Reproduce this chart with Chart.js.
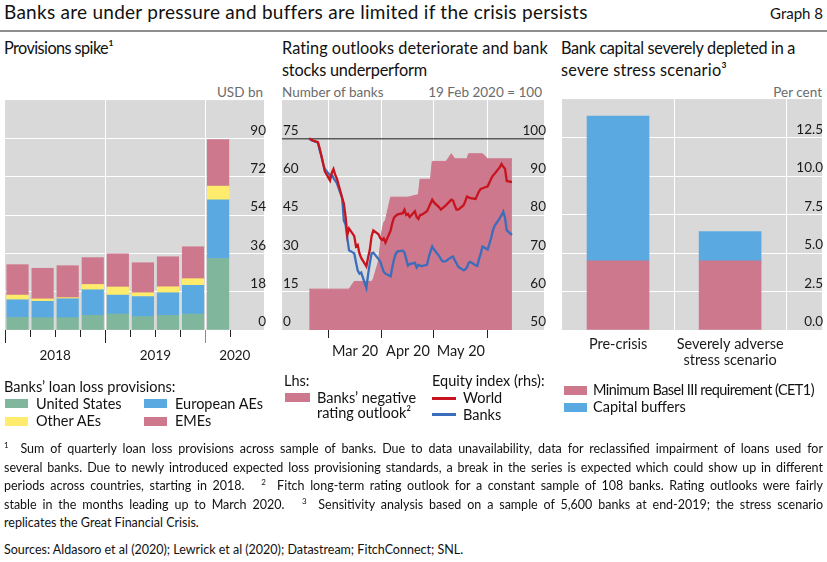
<!DOCTYPE html>
<html><head><meta charset="utf-8">
<script src="https://cdn.jsdelivr.net/npm/chart.js@4.4.1/dist/chart.umd.min.js"></script>
<style>
html,body{margin:0;padding:0}
body{width:827px;height:562px;position:relative;overflow:hidden;background:#fff;font-family:Lato,"Noto Sans",sans-serif;color:#111}
.tx{position:absolute;white-space:nowrap;line-height:20px}
.sw{position:absolute}
.hd{font-size:13.5px;color:#6b6b6b}
.pt{font-size:16.3px}
.lg{font-size:14.5px}
.fn{position:absolute;left:4px;white-space:nowrap;font-size:12.5px;line-height:18px}
.fn sup{font-size:8px;vertical-align:5px;line-height:0}
canvas{position:absolute}
</style></head><body>

<div class="tx fit" data-w="583" style="left:4px;top:1px;font-size:19px;line-height:22px">Banks are under pressure and buffers are limited if the crisis persists</div>
<div class="tx" style="right:4px;top:3px;font-size:15px">Graph 8</div>
<div style="position:absolute;left:0;top:30px;width:827px;height:2px;background:#8d8d8d"></div>

<div class="tx pt fit" data-w="109" style="left:4px;top:38px">Provisions spike¹</div>
<div class="tx pt fit" data-w="266" style="left:282px;top:38px">Rating outlooks deteriorate and bank</div>
<div class="tx pt fit" data-w="145" style="left:282px;top:60px">stocks underperform</div>
<div class="tx pt fit" data-w="234" style="left:561px;top:38px">Bank capital severely depleted in a</div>
<div class="tx pt fit" data-w="166" style="left:561px;top:60px">severe stress scenario³</div>

<div class="tx hd" style="right:564px;top:82px">USD bn</div>
<div class="tx hd" style="left:282px;top:82px">Number of banks</div>
<div class="tx hd" style="right:285px;top:82px">19 Feb 2020 = 100</div>
<div class="tx hd" style="right:5px;top:82px">Per cent</div>

<canvas id="c1" width="276" height="290" style="left:0;top:90px"></canvas>
<canvas id="c2" width="276" height="290" style="left:276px;top:90px"></canvas>
<canvas id="c3" width="275" height="290" style="left:552px;top:90px"></canvas>

<!-- legends -->
<div class="tx lg" style="left:4px;top:377px">Banks’ loan loss provisions:</div>
<div class="sw" id="swUS" style="left:5px;top:399px;width:23px;height:9px"></div>
<div class="tx lg" style="left:36px;top:393.5px">United States</div>
<div class="sw" id="swEU" style="left:143.5px;top:399px;width:23px;height:9px"></div>
<div class="tx lg" style="left:175px;top:393.5px">European AEs</div>
<div class="sw" id="swOA" style="left:5px;top:416.5px;width:23px;height:9px"></div>
<div class="tx lg" style="left:36px;top:411px">Other AEs</div>
<div class="sw" id="swEM" style="left:143.5px;top:416.5px;width:23px;height:9px"></div>
<div class="tx lg" style="left:175px;top:411px">EMEs</div>

<div class="tx lg" style="left:284px;top:371px">Lhs:</div>
<div class="sw" id="swRO" style="left:284.5px;top:393px;width:25px;height:9px"></div>
<div class="tx lg" style="left:317px;top:388px">Banks’ negative</div>
<div class="tx lg" style="left:317px;top:403px">rating outlook²</div>
<div class="tx lg" style="left:432px;top:371px">Equity index (rhs):</div>
<div class="sw" id="swW" style="left:432px;top:396.5px;width:24px;height:3px"></div>
<div class="tx lg" style="left:463px;top:388px">World</div>
<div class="sw" id="swB" style="left:432px;top:413px;width:24px;height:3px"></div>
<div class="tx lg" style="left:463px;top:404.7px">Banks</div>

<div class="sw" id="swMin" style="left:564px;top:385.5px;width:22.5px;height:9px"></div>
<div class="tx lg fit" data-w="221" style="left:593px;top:380px">Minimum Basel III requirement (CET1)</div>
<div class="sw" id="swBuf" style="left:564px;top:402.5px;width:22.5px;height:9px"></div>
<div class="tx lg" style="left:593px;top:397px">Capital buffers</div>

<!-- footnotes -->
<div class="fn just" style="top:440px"><sup>1</sup>&nbsp; Sum of quarterly loan loss provisions across sample of banks. Due to data unavailability, data for reclassified impairment of loans used for</div>
<div class="fn just" style="top:458.6px">several banks. Due to newly introduced expected loss provisioning standards, a break in the series is expected which could show up in different</div>
<div class="fn just" style="top:477.2px">periods across countries, starting in 2018.&nbsp;&nbsp; <sup>2</sup>&nbsp; Fitch long-term rating outlook for a constant sample of 108 banks. Rating outlooks were fairly</div>
<div class="fn just" style="top:495.8px">stable in the months leading up to March 2020.&nbsp;&nbsp; <sup>3</sup>&nbsp; Sensitivity analysis based on a sample of 5,600 banks at end-2019; the stress scenario</div>
<div class="fn" style="top:514.4px">replicates the Great Financial Crisis.</div>
<div class="fn" style="top:540.5px">Sources: Aldasoro et al (2020); Lewrick et al (2020); Datastream; FitchConnect; SNL.</div>

<script>
// ================= DATA =================
// Panel 1: quarterly loan loss provisions, USD bn
const quarters   = ['2018 Q1','2018 Q2','2018 Q3','2018 Q4','2019 Q1','2019 Q2','2019 Q3','2019 Q4','2020 Q1'];
const provUS     = [5.9, 5.8, 5.8, 6.9, 7.5, 6.3, 6.9, 7.5, 33.6];
const provEurAE  = [8.3, 7.7, 8.9, 12.0, 8.9, 9.4, 10.6, 13.5, 27.6];
const provOthAE  = [2.2, 1.1, 0.5, 2.5, 3.8, 1.8, 2.8, 3.1, 6.4];
const provEME    = [14.3, 14.4, 15.0, 12.6, 15.6, 14.1, 14.1, 15.0, 21.9];
const provTicks  = [0, 18, 36, 54, 72, 90];

// Panel 2: rating outlooks (lhs, number of banks) and equity indices (rhs, 19 Feb 2020 = 100)
const outlookDates = ['02-19','03-13','03-16','03-26','03-27','03-30','03-31','04-01','04-02','04-03','04-06','04-16','04-22','04-23','04-29','04-30','05-08','05-11','05-13','05-20','05-21','05-29','06-01','06-15'];
const outlookBanks = [16,16,19,19,20,27,33,39,42,43,52,52,53,59,59,66,66,69,67,67,69,69,67,67];
const tradingDays = [
 '02-19','02-20','02-21','02-24','02-25','02-26','02-27','02-28',
 '03-02','03-03','03-04','03-05','03-06','03-09','03-10','03-11','03-12','03-13','03-16','03-17','03-18','03-19','03-20','03-23','03-24','03-25','03-26','03-27','03-30','03-31',
 '04-01','04-02','04-03','04-06','04-07','04-08','04-09','04-10','04-13','04-14','04-15','04-16','04-17','04-20','04-21','04-22','04-23','04-24','04-27','04-28','04-29','04-30',
 '05-01','05-04','05-05','05-06','05-07','05-08','05-11','05-12','05-13','05-14','05-15','05-18','05-19','05-20','05-21','05-22','05-25','05-26','05-27','05-28','05-29',
 '06-01','06-02','06-03','06-04','06-05','06-08','06-09','06-10','06-11','06-12','06-15'];
const worldIndex = [
 100, 99.7, 99.5, 99.0, 97.5, 95.5, 93.5, 91.4,
 89.0, 91.0, 92.0, 90.5, 89.5, 84.5, 83.0, 79.5, 74.8, 76.5, 74.5, 71.8, 72.2, 70.0, 68.8, 66.6, 69.0, 71.0, 74.5, 76.0, 75.0, 74.0,
 73.5, 73.9, 72.8, 76.0, 78.0, 79.4, 79.8, 80.2, 80.5, 81.4, 80.0, 80.3, 79.5, 81.0, 79.5, 79.0, 80.0, 80.1, 81.0, 82.0, 83.0, 84.0,
 83.3, 82.0, 81.4, 81.8, 82.2, 82.6, 84.0, 83.8, 82.5, 81.4, 81.4, 82.5, 83.5, 84.8, 84.6, 84.4, 84.2, 85.2, 86.2, 86.8, 87.0,
 87.5, 88.5, 89.5, 90.3, 90.8, 92.5, 93.3, 92.6, 92.1, 88.9, 88.6];
const banksIndex = [
 100, 99.6, 99.4, 98.9, 97.0, 95.5, 93.5, 92.0,
 90.3, 90.5, 89.7, 89.0, 88.3, 84.5, 78.5, 77.5, 74.0, 70.8, 70.0, 67.7, 65.5, 64.7, 65.0, 61.0, 64.5, 67.5, 70.0, 70.2, 68.5, 67.9,
 66.5, 65.2, 64.7, 64.0, 66.5, 68.5, 70.0, 70.5, 70.7, 70.2, 68.5, 66.8, 67.2, 67.5, 66.3, 67.0, 66.8, 66.7, 67.0, 69.0, 70.5, 71.8,
 71.0, 69.3, 68.5, 67.9, 67.9, 68.0, 69.0, 69.2, 68.2, 67.4, 66.5, 65.6, 65.8, 66.3, 67.5, 67.8, 66.9, 66.7, 68.5, 70.0, 71.8,
 71.0, 72.5, 74.0, 76.0, 77.2, 79.2, 80.0, 80.9, 79.3, 76.0, 74.8];
const monthStarts = ['03-01','04-01','05-01','06-01'];
const monthLabels = ['Mar 20','Apr 20','May 20'];
const outlookTicks = [0, 15, 30, 45, 60, 75];
const equityTicks  = [50, 60, 70, 80, 90, 100];

// Panel 3: bank capital, per cent
const scenarios      = [['Pre-crisis'], ['Severely adverse','stress scenario']];
const minCET1        = [4.5, 4.5];
const capitalBuffers = [9.4, 1.9];
const capitalTicks   = [0, 2.5, 5, 7.5, 10, 12.5];

// ================= STYLE =================
const C = {grey:'#d9d9d9', green:'#80b69b', blue:'#5aaae1', yellow:'#ffec6c', pink:'#cd788c',
           red:'#c8141e', navy:'#3a6dbb', tick:'#222', base:'#5c5c5c', white:'#ffffff', none:'rgba(0,0,0,0)'};
const TICKFONT = {size:13.5};
Chart.defaults.font.family = 'Lato, "Noto Sans", sans-serif';
Chart.defaults.color = '#1a1a1a';

[['swUS',C.green],['swEU',C.blue],['swOA',C.yellow],['swEM',C.pink],['swRO',C.pink],['swW',C.red],['swB',C.navy],['swMin',C.pink],['swBuf',C.blue]]
  .forEach(([id,c])=>document.getElementById(id).style.background=c);

const bgPlugin = {id:'bg', beforeDraw(ch){ const {ctx, chartArea:a} = ch; ctx.save(); ctx.fillStyle = C.grey;
  ctx.fillRect(a.left, a.top, a.right-a.left, a.bottom-a.top); ctx.restore(); }};

function fitArea(chart, t){
  for (let k=0;k<3;k++){
    const a = chart.chartArea, p = chart.config.options.layout.padding;
    chart.config.options.layout.padding = {left:p.left+(t.left-a.left), top:p.top+(t.top-a.top),
      right:p.right+(a.right-t.right), bottom:p.bottom+(a.bottom-t.bottom)};
    chart.update('none');
  }
}
const baseOpts = () => ({responsive:false, animation:false, events:[], layout:{padding:{left:0,right:0,top:0,bottom:0}},
  plugins:{legend:{display:false}, tooltip:{enabled:false}}});
const setTicks = vals => (s => { s.ticks = vals.map(v=>({value:v})); });

// ================= PANEL 1 =================
const X1MAX = 9.83;
const yearOf = quarters.map(q=>q.slice(0,4));
const years = [...new Set(yearOf)];
const quarterEdges = quarters.map((q,i)=>i-0.5).concat([quarters.length-0.5]);
const yearStart = years.map(y=>yearOf.indexOf(y)-0.5);
const yearCentre = years.map((y,k)=>(yearStart[k] + (k<years.length-1 ? yearStart[k+1] : X1MAX))/2);
const lastYearStart = yearStart[yearStart.length-1];
const bars = (label, vals, color) => ({label, data: vals.map((v,i)=>({x:i, y:v})), backgroundColor: color, borderWidth:0, barThickness:21.5});

const ch1 = new Chart(document.getElementById('c1'), {
  type:'bar',
  data:{datasets:[bars('United States',provUS,C.green), bars('European AEs',provEurAE,C.blue),
                  bars('Other AEs',provOthAE,C.yellow), bars('EMEs',provEME,C.pink)]},
  options:Object.assign(baseOpts(), {scales:{
    x:{type:'linear', min:-0.5, max:X1MAX, stacked:true, offset:false, afterBuildTicks:setTicks(quarterEdges),
       ticks:{display:false, autoSkip:false},
       grid:{offset:false, drawTicks:true, tickLength:7,
             color: c => (yearStart.includes(c.tick.value) && c.tick.value > -0.5) ? C.white : C.none,
             tickColor: c => c.tick.value===lastYearStart ? '#8a8a8a' : C.tick},
       border:{display:false}},
    x2:{type:'linear', position:'bottom', weight:1, min:-0.5, max:X1MAX, offset:false,
       afterBuildTicks:setTicks(yearStart.concat(yearCentre).sort((a,b)=>a-b)),
       ticks:{autoSkip:false, maxRotation:0, font:TICKFONT, padding:5,
              callback: v => { const k = yearCentre.indexOf(v); return k>=0 ? years[k] : ''; }},
       grid:{offset:false, drawOnChartArea:false, drawTicks:true, tickLength:6,
             tickColor: c => yearCentre.includes(c.tick.value) ? C.none : (c.tick.value===lastYearStart ? '#8a8a8a' : C.tick)},
       border:{display:false}},
    y:{position:'right', stacked:true, min:0, max:108, afterBuildTicks:setTicks(provTicks.concat([108])),
       ticks:{mirror:true, padding:2, labelOffset:-8, font:TICKFONT, callback: v => provTicks.includes(v) ? String(v) : ''},
       grid:{drawTicks:false, color: c => (c.tick.value>0 && c.tick.value<108) ? C.white : C.none},
       border:{display:false}}
  }}),
  plugins:[bgPlugin]
});
fitArea(ch1, {left:2, top:11, right:264, bottom:240});

// ================= PANEL 2 =================
const DAY0 = Date.UTC(2020,1,19);
const toDay = d => (Date.UTC(2020, +d.slice(0,2)-1, +d.slice(3,5)) - DAY0)/864e5;
const monthDays = monthStarts.map(toDay);
const monthMid = monthLabels.map((m,i)=>(monthDays[i]+monthDays[i+1])/2);

const ch2 = new Chart(document.getElementById('c2'), {
  type:'line',
  data:{datasets:[
    {label:'Banks’ negative rating outlook', yAxisID:'y', data: outlookDates.map((d,i)=>({x:toDay(d), y:outlookBanks[i]})),
     backgroundColor:C.pink, borderColor:C.pink, borderWidth:1, fill:'origin', pointRadius:0, tension:0, order:3},
    {label:'Banks', yAxisID:'y2', data: tradingDays.map((d,i)=>({x:toDay(d), y:banksIndex[i]})),
     borderColor:C.navy, borderWidth:2.3, fill:false, pointRadius:0, tension:0, order:2},
    {label:'World', yAxisID:'y2', data: tradingDays.map((d,i)=>({x:toDay(d), y:worldIndex[i]})),
     borderColor:C.red, borderWidth:2.3, fill:false, pointRadius:0, tension:0, order:1}
  ]},
  options:Object.assign(baseOpts(), {scales:{
    x:{type:'linear', min:-15.7, max:135.5, afterBuildTicks:setTicks(monthDays),
       ticks:{display:false, autoSkip:false},
       grid:{drawTicks:true, tickLength:8, color:C.white, tickColor:C.tick}, border:{display:false}},
    xm:{type:'linear', position:'bottom', weight:1, min:-15.7, max:135.5, afterBuildTicks:setTicks(monthMid),
       ticks:{autoSkip:false, maxRotation:0, font:{size:14.5}, padding:5, callback: v => monthLabels[monthMid.indexOf(v)] || ''},
       grid:{drawOnChartArea:false, drawTicks:false}, border:{display:false}},
    y:{position:'left', min:0, max:90, afterBuildTicks:setTicks(outlookTicks.concat([90])),
       ticks:{mirror:true, padding:1, labelOffset:-8, font:TICKFONT, callback: v => outlookTicks.includes(v) ? String(v) : ''},
       grid:{drawTicks:false, color: c => c.tick.value===75 ? C.base : ((c.tick.value>0 && c.tick.value<90) ? C.white : C.none),
             lineWidth: c => c.tick.value===75 ? 1.5 : 1},
       border:{display:false}},
    y2:{position:'right', min:50, max:110, afterBuildTicks:setTicks(equityTicks.concat([110])),
       ticks:{mirror:true, padding:2, labelOffset:-8, font:TICKFONT, callback: v => equityTicks.includes(v) ? String(v) : ''},
       grid:{drawOnChartArea:false, drawTicks:false}, border:{display:false}}
  }}),
  plugins:[bgPlugin]
});
fitArea(ch2, {left:6, top:11, right:268, bottom:240});

// ================= PANEL 3 =================
const scenIdx = scenarios.map((s,i)=>i);
const scenEdges = scenarios.map((s,i)=>i+0.5);
const ch3 = new Chart(document.getElementById('c3'), {
  type:'bar',
  data:{datasets:[
    {label:'Minimum Basel III requirement (CET1)', data: minCET1.map((v,i)=>({x:i,y:v})), backgroundColor:C.pink, borderWidth:0, barThickness:62},
    {label:'Capital buffers', data: capitalBuffers.map((v,i)=>({x:i,y:v})), backgroundColor:C.blue, borderWidth:0, barThickness:62}
  ]},
  options:Object.assign(baseOpts(), {scales:{
    x:{type:'linear', min:-0.5, max:1.82, stacked:true, offset:false,
       afterBuildTicks:setTicks(scenIdx.concat(scenEdges).sort((a,b)=>a-b)),
       ticks:{autoSkip:false, maxRotation:0, font:{size:14.5, lineHeight:1.05}, padding:7,
              callback: v => scenIdx.includes(v) ? scenarios[v] : ''},
       grid:{offset:false, drawTicks:false, color: c => scenEdges.includes(c.tick.value) ? C.white : C.none},
       border:{display:false}},
    y:{position:'right', stacked:true, min:0, max:15, afterBuildTicks:setTicks(capitalTicks.concat([15])),
       ticks:{mirror:true, padding:1, labelOffset:-8, font:TICKFONT, callback: v => capitalTicks.includes(v) ? v.toFixed(1) : ''},
       grid:{drawTicks:false, color: c => (c.tick.value>0 && c.tick.value<15) ? C.white : C.none},
       border:{display:false}}
  }}),
  plugins:[bgPlugin]
});
fitArea(ch3, {left:10, top:11, right:270, bottom:240});

// ================= text fitting =================
document.querySelectorAll('.fit').forEach(el=>{
  const w = el.getBoundingClientRect().width;
  const n = el.textContent.length;
  el.style.letterSpacing = ((+el.dataset.w - w)/n) + 'px';
});
document.querySelectorAll('.fn.just').forEach(el=>{
  el.style.display='inline-block';
  const w = el.getBoundingClientRect().width;
  const spaces = (el.textContent.match(/[ \u00a0]/g)||[]).length;
  el.style.wordSpacing = ((819 - w)/spaces) + 'px';
});
</script>
</body></html>
